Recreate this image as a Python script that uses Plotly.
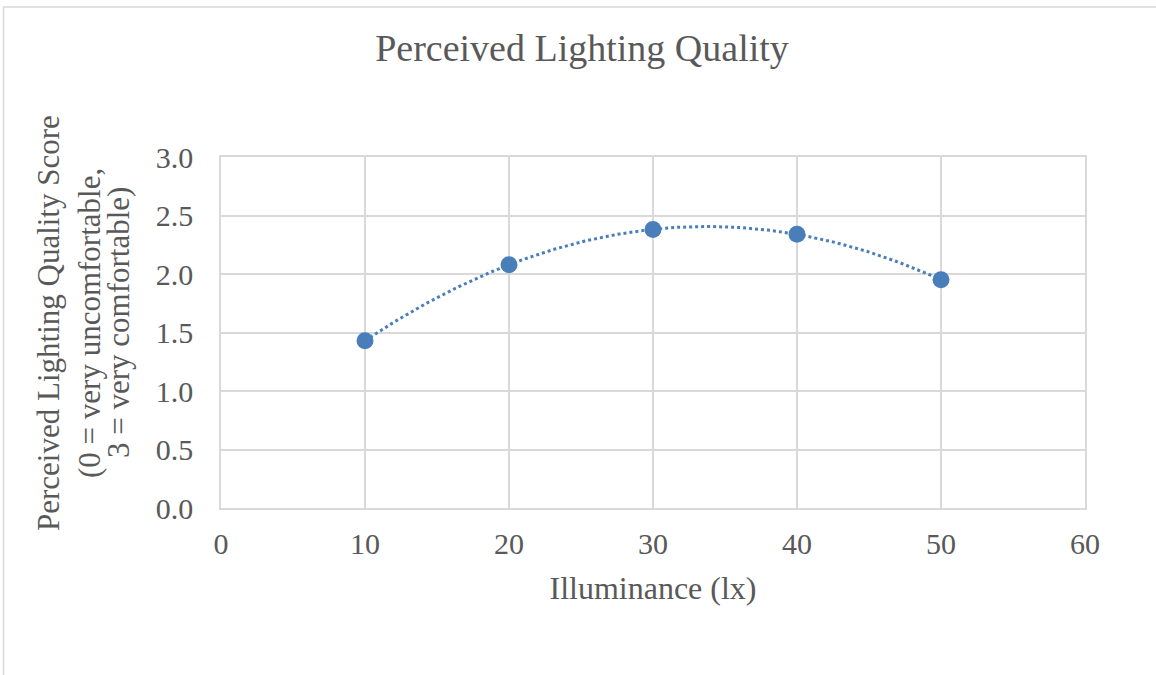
import numpy as np
import plotly.graph_objects as go

# Illuminance levels and mean perceived quality scores
illuminance = [10, 20, 30, 40, 50]
quality_score = [1.43, 2.08, 2.38, 2.34, 1.95]

x_ticks = [0, 10, 20, 30, 40, 50, 60]
y_ticks = [0.0, 0.5, 1.0, 1.5, 2.0, 2.5, 3.0]

# y-axis title, one entry per wrapped line
y_title_lines = [
    "Perceived Lighting Quality Score",
    "(0 = very uncomfortable,",
    "3 = very comfortable)",
]

W, H = 1156, 675
L, R, T, B = 221, 71, 157, 167

blue = "#4a7ebb"
grey_txt = "#595959"
grid = "#d9d9d9"
font_family = "Liberation Serif, Times New Roman, serif"

# second-order polynomial trendline through the observations
coef = np.polyfit(illuminance, quality_score, 2)
xs = np.linspace(min(illuminance), max(illuminance), 200)
ys = np.polyval(coef, xs)

fig = go.Figure()
fig.add_trace(go.Scatter(
    x=xs, y=ys, mode="lines",
    line=dict(color=blue, width=3, dash="dot"),
    hoverinfo="skip", showlegend=False,
))
fig.add_trace(go.Scatter(
    x=illuminance, y=quality_score, mode="markers",
    marker=dict(color=blue, size=17),
    showlegend=False,
))

pw, ph = W - L - R, H - T - B


def px_x(p):
    return (p - L) / pw


def px_y(p):
    return (H - B - p) / ph


# outer chart frame
fig.add_shape(
    type="rect", xref="paper", yref="paper",
    x0=px_x(3.5), x1=px_x(W + 5),
    y0=px_y(H + 5), y1=px_y(7),
    line=dict(color=grid, width=1.5), fillcolor="rgba(0,0,0,0)",
    layer="below",
)

# rotated y-axis title, placed line by line
for text, cx in zip(y_title_lines, [48, 89, 118]):
    fig.add_annotation(
        text=text, textangle=-90,
        xref="paper", yref="paper",
        x=px_x(cx), y=px_y(323),
        xanchor="center", yanchor="middle",
        showarrow=False,
        font=dict(size=31, color=grey_txt, family=font_family),
    )

fig.update_layout(
    width=W, height=H,
    margin=dict(l=L, r=R, t=T, b=B),
    paper_bgcolor="white", plot_bgcolor="white",
    font=dict(family=font_family, color=grey_txt),
    title=dict(
        text="Perceived Lighting Quality",
        x=582 / W, xanchor="center",
        y=1 - 48 / H, yanchor="middle",
        font=dict(size=38, color=grey_txt, family=font_family),
    ),
    xaxis=dict(
        range=[0, 60], tickvals=x_ticks,
        ticktext=[str(v) for v in x_ticks],
        showgrid=True, gridcolor=grid, gridwidth=1.5,
        zeroline=False, showline=True, linecolor=grid, linewidth=1.5,
        mirror=True,
        ticks="", tickfont=dict(size=30, color=grey_txt),
        ticklabelstandoff=8,
        title=dict(text="Illuminance (lx)", font=dict(size=32, color=grey_txt), standoff=18),
    ),
    yaxis=dict(
        range=[0, 3], tickvals=y_ticks,
        ticktext=[f"{v:.1f}" for v in y_ticks],
        showgrid=True, gridcolor=grid, gridwidth=1.5,
        zeroline=False, showline=True, linecolor=grid, linewidth=1.5,
        mirror=True,
        ticks="", tickfont=dict(size=30, color=grey_txt),
        ticklabelstandoff=20,
    ),
)

fig.write_html("out.html")
